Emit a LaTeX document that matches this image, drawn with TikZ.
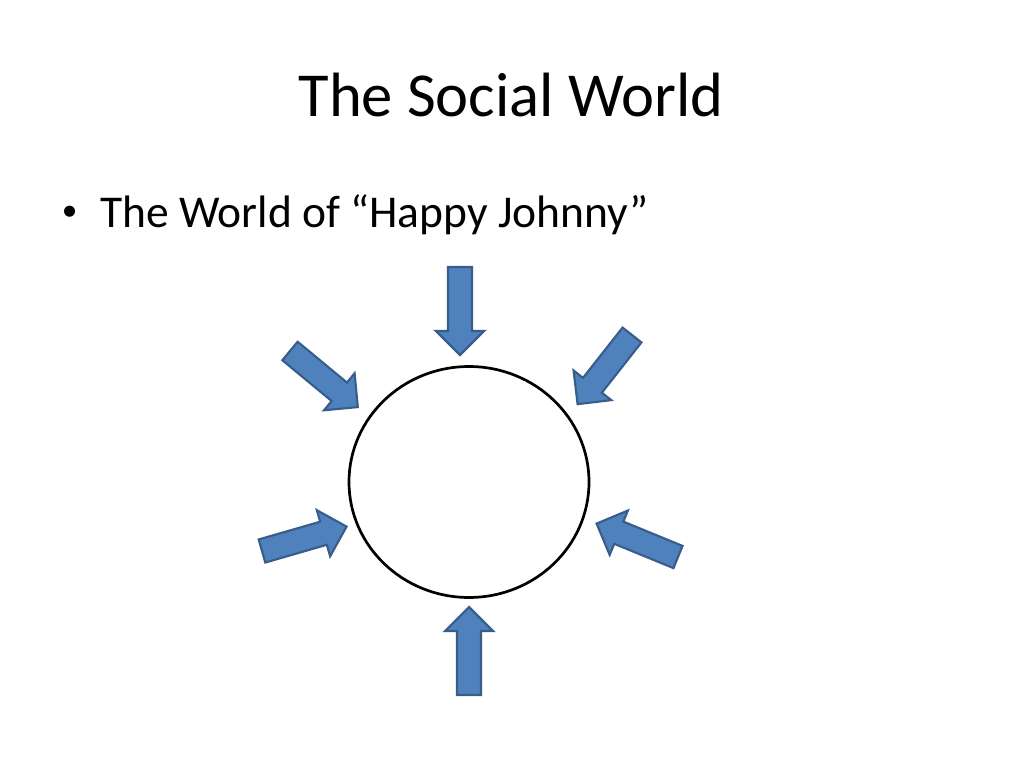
\documentclass[tikz,border=0pt]{standalone}
\usepackage{fontspec}
\setmainfont{Carlito}
\usetikzlibrary{shapes.geometric}

\definecolor{arrowfill}{HTML}{4F81BD}
\definecolor{arrowline}{HTML}{385D8A}

\begin{document}
\begin{tikzpicture}[x=0.703125pt,y=-0.703125pt,
    arrowbody/.style={fill=arrowfill,draw=arrowline,line width=1.5pt,line join=miter},
    blockarrow/.pic={\draw[arrowbody] (0,-12) -- (64,-12) -- (64,-24) -- (88,0)
        -- (64,24) -- (64,12) -- (0,12) -- cycle;}]
    \useasboundingbox (0,0) rectangle (1024,768);
    \node[anchor=base,inner sep=0pt,font=\fontsize{44}{52}\selectfont] (title) at (511,117) {The Social World};
    \node[anchor=base west,inner sep=0pt,font=\fontsize{22}{26}\selectfont] (dot) at (61.5,221) {•};
    \node[anchor=base west,inner sep=0pt,font=\fontsize{32}{38}\selectfont] (item) at (100,228) {The World of “Happy Johnny”};
    \node[ellipse,draw,line width=1.9pt,inner sep=0pt,minimum width=168.75pt,minimum height=162.4pt] (self) at (469,482) {};

    % arrows pointing in on the circle
    \pic[rotate=-90]    at (460,267) {blockarrow};
    \pic[rotate=90]     at (469,695) {blockarrow};
    \pic[rotate=-39.6]  at (290,351) {blockarrow};
    \pic[rotate=-128.2] at (632,335) {blockarrow};
    \pic[rotate=16.1]   at (262,551) {blockarrow};
    \pic[rotate=157.7]  at (678,557) {blockarrow};
\end{tikzpicture}
\end{document}
